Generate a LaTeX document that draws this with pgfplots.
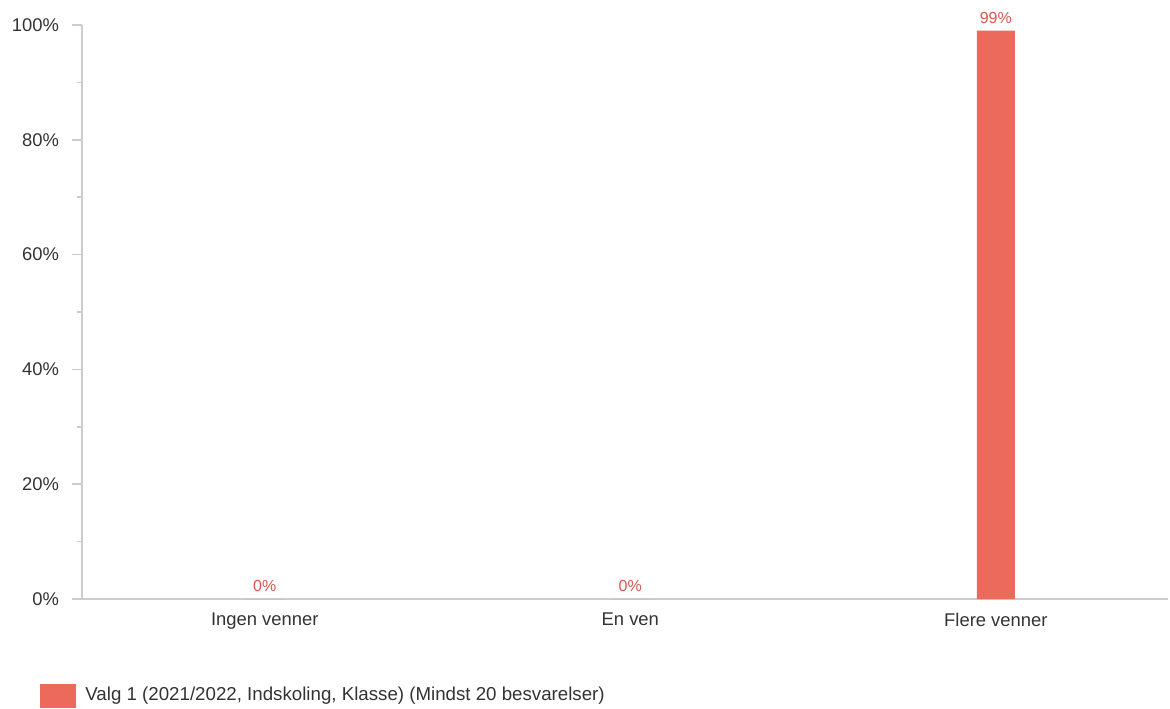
\documentclass[border=0pt]{standalone}
\usepackage{fontspec}
\setmainfont{Liberation Sans}
\usepackage{pgfplots}
\pgfplotsset{compat=1.18}
\definecolor{barred}{HTML}{EC6A5C}
\definecolor{labred}{HTML}{D9574B}
\definecolor{axgray}{HTML}{CCCCCC}
\definecolor{txt}{HTML}{333333}
\begin{document}
\begin{tikzpicture}
\path[use as bounding box] (-41pt,-54.5pt) rectangle (544pt,299.5pt);
\begin{axis}[
  at={(0,0)}, anchor=south west,
  scale only axis,
  width=543pt, height=287pt,
  xmin=-0.5, xmax=2.471,
  ymin=0, ymax=100,
  axis x line*=bottom, axis y line*=left,
  axis line style={axgray, line width=1pt},
  xtick=data,
  xticklabels={Ingen venner, En ven, Flere venner},
  xtick style={draw=none},
  ytick={0,20,40,60,80,100},
  minor ytick={10,30,50,70,90},
  yticklabel={\pgfmathprintnumber{\tick}\%},
  tick align=outside,
  major tick length=5pt,
  minor tick length=2.5pt,
  ytick style={axgray, line width=0.75pt},
  minor tick style={axgray, line width=0.75pt},
  /pgf/number format/assume math mode=true,
  tick label style={font=\fontsize{9.2}{11}\selectfont, text=txt},
  yticklabel style={xshift=-3pt},
  xticklabel style={yshift=1.5pt},
  ybar, bar width=19pt,
  nodes near coords={\pgfmathprintnumber{\pgfplotspointmeta}\%},
  nodes near coords style={font=\fontsize{8}{9.5}\selectfont, text=labred},
  legend style={at={(rel axis cs:0,0)}, anchor=north west, xshift=-24pt, yshift=-40pt,
    draw=none, fill=none, font=\fontsize{9.35}{11}\selectfont, text=txt},
  legend cell align=left,
  legend image code/.code={\fill[barred] (0pt,-6pt) rectangle (18pt,6pt); \path (20.5pt,0pt);},
  clip=false,
]
\addplot[fill=barred, draw=none] coordinates {(0,0) (1,0) (2,99)};
\addlegendentry{Valg 1 (2021/2022, Indskoling, Klasse) (Mindst 20 besvarelser)}
\end{axis}
\end{tikzpicture}
\end{document}
